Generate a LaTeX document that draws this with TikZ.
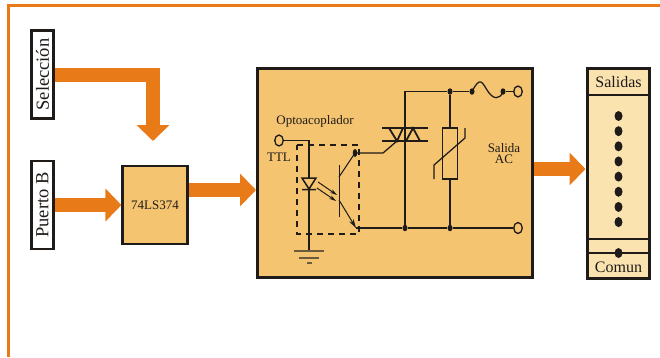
\documentclass[tikz,border=0pt]{standalone}
\usepackage{fontspec}
\setmainfont{Liberation Serif}
\usetikzlibrary{arrows.meta}
\usetikzlibrary{shapes.geometric}
\definecolor{naranja}{HTML}{E97A18}
\definecolor{caja}{HTML}{F4C470}
\definecolor{panel}{HTML}{FBE3B0}
\definecolor{linea}{HTML}{1F1B18}
\definecolor{tierra}{HTML}{6B5A3C}
\tikzset{
	flecha/.style={draw=naranja,line width=14pt,-{Triangle[width=32pt,length=16pt]}},
	bloque/.style={draw=linea,line width=2.1pt,fill=caja,inner sep=0pt,text=linea},
	rotulo/.style={draw=linea,line width=2.1pt,fill=white,inner sep=0pt,rotate=90,minimum width=88pt,minimum height=22pt,font=\fontsize{18.5}{18}\selectfont,text=linea},
	cable/.style={draw=linea,line width=1.25pt},
	borne/.style={draw=linea,line width=1.3pt,ellipse,minimum width=8.5pt,minimum height=11pt,inner sep=0pt},
	punto/.style={fill=linea,ellipse,minimum width=5pt,minimum height=6.5pt,inner sep=0pt},
	salpunto/.style={fill=linea,ellipse,minimum width=8pt,minimum height=10pt,inner sep=0pt},
	texto/.style={font=\fontsize{13}{11.5}\selectfont,text=linea,inner sep=0pt,align=center}
}
\begin{document}
\begin{tikzpicture}[x=1pt,y=-1pt]
	 \useasboundingbox (0,0) rectangle (660,357);
	 \coordinate (m1) at (8.5,357);
	 \coordinate (m2) at (8.5,5.5);
	 \coordinate (m3) at (660,5.5);
	 \draw[naranja,line width=3.6pt] (m1) -- (m2) -- (m3);
	 \node[rotulo] (sel) at (42.5,74.5) {Selección};
	 \node[rotulo] (puerto) at (42.5,205) {Puerto B};
	 \node[bloque,minimum width=65pt,minimum height=78pt,font=\fontsize{13}{13}\selectfont] (latch) at (155,205) {74LS374};
	 \node[bloque,minimum width=275pt,minimum height=209pt] (placa) at (395,173) {};
	 \node[bloque,fill=panel,minimum width=62pt,minimum height=210pt] (salidas) at (618.5,173.5) {};
	 \node[font=\fontsize{16}{16}\selectfont,text=linea] (tsal) at (618.5,82) {Salidas};
	 \node[font=\fontsize{16}{16}\selectfont,text=linea] (tcom) at (618.5,267) {Comun};
	 \coordinate (p1) at (153,75);
	 \coordinate (p2) at (153,141);
	 \draw[flecha] (sel.south |- p1) -- (p1) -- (p2);
	 \draw[flecha] (puerto.south) -- (latch.west);
	 \coordinate (p3) at (256,190);
	 \draw[flecha] (latch.east |- p3) -- (p3);
	 \coordinate (p4) at (585.5,169);
	 \draw[flecha] (placa.east |- p4) -- (p4);
	 \draw[draw=linea,line width=1.5pt] (587,95) -- (650,95) (587,239) -- (650,239) (587,253) -- (650,253);
	 \foreach \i in {0,...,7}
		 \node[salpunto] (s\i) at (618.5,116+15.15*\i) {};
	 \node[salpunto] (scom) at (618.5,253) {};
	 \node[texto] (opto) at (315,121) {Optoacoplador};
	 \node[texto] (ttl) at (279,157) {TTL};
	 \node[texto] (ac) at (504,153.5) {Salida\\AC};
	 \node[borne] (b1) at (279,140.5) {};
	 \node[borne] (b2) at (518,91.5) {};
	 \node[borne] (b3) at (518,228) {};
	 \coordinate (g0) at (309,251);
	 \coordinate (d0) at (309,140.5);
	 \draw[cable] (b1) -- (d0) -- (g0);
	 \draw[tierra,line width=1.4pt] (294,251) -- (324,251) (299,258) -- (319,258) (307,263) -- (312,263);
	 \draw[linea,line width=1.15pt,dash pattern=on 6pt off 5pt] (297,145) -- (359,145) -- (359,234) -- (297,234) -- cycle;
	 \fill[caja] (302,178) -- (316,178) -- (309,189) -- cycle;
	 \draw[linea,line width=1.5pt] (302,178) -- (316,178) -- (309,189) -- cycle (302,189.5) -- (316,189.5);
	 \draw[linea,line width=1pt,-{Stealth[length=7pt,width=4pt]}] (318,182) -- (337,195);
	 \draw[linea,line width=1pt,-{Stealth[length=7pt,width=4pt]}] (317,188) -- (336,201);
	 \coordinate (c) at (355,153);
	 \coordinate (e) at (356,228);
	 \node[fill=linea,ellipse,minimum width=4.5pt,minimum height=8pt,inner sep=0pt] (cdot) at (c) {};
	 \draw[linea,line width=1pt] (339,165) -- (339,217);
	 \draw[linea,line width=1pt] (339,177) -- (c);
	 \draw[linea,line width=1pt,-{Stealth[length=9pt,width=5pt]}] (339,200) -- (e);
	 \coordinate (g1) at (383,153);
	 \coordinate (g2) at (397,141);
	 \draw[cable] (c) -- (g1) -- (g2);
	 \draw[linea,line width=2pt] (382,128) -- (428,128) (382,141) -- (428,141);
	 \draw[linea,line width=1.8pt] (389,128) -- (397,141) -- (403,128) (406,141) -- (413,128) -- (420,141);
	 \node[punto] (n1) at (450,91.5) {};
	 \node[punto] (n2) at (405,228) {};
	 \node[punto] (n3) at (450,228) {};
	 \node[punto] (f1) at (472,91.5) {};
	 \node[punto] (f2) at (503,91.5) {};
	 \coordinate (t) at (405,91.5);
	 \draw[cable] (e) -- (n2) -- (n3) -- (b3);
	 \draw[cable] (n2) -- (t) -- (n1) -- (f1);
	 \draw[cable] (f1.center) .. controls (480,76) and (482,82) .. (487,90) .. controls (493,100) and (500,100) .. (f2.center);
	 \draw[cable] (f2) -- (b2);
	 \node[draw=linea,line width=1.25pt,minimum width=15.5pt,minimum height=51pt,inner sep=0pt] (var) at (450,153.5) {};
	 \draw[cable] (n1) -- (var.north);
	 \draw[cable] (var.south) -- (n3);
	 \draw[cable] (434,179) -- (434,165) -- (465,138) -- (465,128);
\end{tikzpicture}
\end{document}
